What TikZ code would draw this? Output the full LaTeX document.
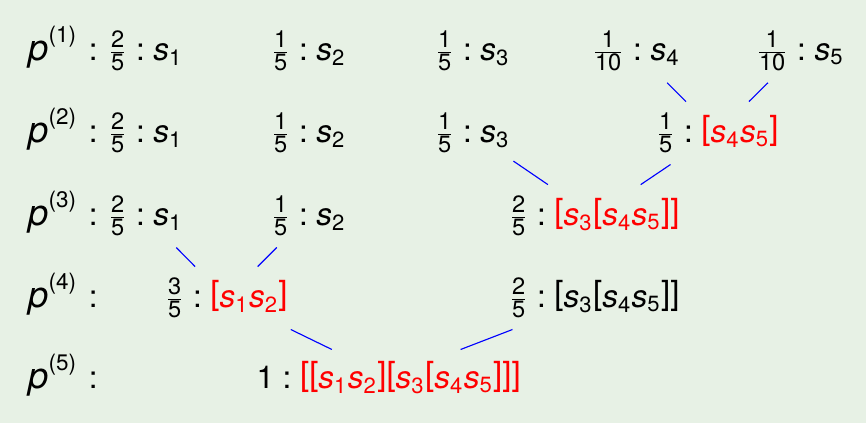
\documentclass[tikz,border=0pt]{standalone}
\usepackage{amsmath}
\usepackage{xcolor}
\usepackage{fontspec}
\setmainfont{TeX Gyre Heros}

\definecolor{bgfill}{RGB}{231,241,229}
\definecolor{mred}{RGB}{255,0,0}
\definecolor{mblue}{RGB}{0,0,255}

\newcommand{\fd}[1]{\text{\fontsize{8.4}{10}\selectfont#1}}
\newcommand{\fr}[2]{\frac{\fd{#1}}{\fd{#2}}}
\newcommand{\sv}[1]{\text{\itshape s}_{\text{#1}}}
\newcommand{\cn}{\mathrel{\text{:}}}
\newcommand{\lb}{\text{\raisebox{1pt}{\fontsize{11.8}{13}\selectfont[}}}
\newcommand{\rb}{\text{\raisebox{1pt}{\fontsize{11.8}{13}\selectfont]}}}
\newcommand{\rd}[1]{\textcolor{mred}{#1}}
\newcommand{\plab}[1]{{\fontsize{12.9}{14}\selectfont\itshape p}%
  \raisebox{6.2pt}{\fontsize{8}{9}\selectfont(#1)}\hspace{4.6pt}:}

\begin{document}
\begin{tikzpicture}[
    x=0.125mm, y=-0.125mm,
    font=\fontsize{11.2}{13}\selectfont,
    lbl/.style={anchor=base west, inner sep=1pt},
    entry/.style={anchor=base west, inner xsep=1.1pt, inner ysep=3.9pt},
    link/.style={draw=mblue, line width=0.4pt}
  ]
    \fill[bgfill] (0,0) rectangle (866,423);

    % row labels
    \node[lbl] (p1) at (25,60)  {\plab{1}};
    \node[lbl] (p2) at (25,142) {\plab{2}};
    \node[lbl] (p3) at (25,225) {\plab{3}};
    \node[lbl] (p4) at (25,307) {\plab{4}};
    \node[lbl] (p5) at (25,388) {\plab{5}};

    % p(1)
    \node[entry] (r1a) at (104,60) {$\fr{2}{5}\cn\sv{1}$};
    \node[entry] (r1b) at (267,60) {$\fr{1}{5}\cn\sv{2}$};
    \node[entry] (r1c) at (431,60) {$\fr{1}{5}\cn\sv{3}$};
    \node[entry] (r1d) at (588,60) {$\fr{1}{10}\cn\sv{4}$};
    \node[entry] (r1e) at (752,60) {$\fr{1}{10}\cn\sv{5}$};

    % p(2)
    \node[entry] (r2a) at (104,142) {$\fr{2}{5}\cn\sv{1}$};
    \node[entry] (r2b) at (267,142) {$\fr{1}{5}\cn\sv{2}$};
    \node[entry] (r2c) at (431,142) {$\fr{1}{5}\cn\sv{3}$};
    \node[entry] (r2d) at (652,142) {$\fr{1}{5}\cn\rd{\lb\sv{4}\sv{5}\rb}$};

    % p(3)
    \node[entry] (r3a) at (104,225) {$\fr{2}{5}\cn\sv{1}$};
    \node[entry] (r3b) at (267,225) {$\fr{1}{5}\cn\sv{2}$};
    \node[entry] (r3c) at (505,225) {$\fr{2}{5}\cn\rd{\lb\sv{3}\lb\sv{4}\sv{5}\rb\rb}$};

    % p(4)
    \node[entry] (r4a) at (161,307) {$\fr{3}{5}\cn\rd{\lb\sv{1}\sv{2}\rb}$};
    \node[entry] (r4b) at (505,307) {$\fr{2}{5}\cn\lb\sv{3}\lb\sv{4}\sv{5}\rb\rb$};

    % p(5)
    \node[entry] (r5a) at (253,388)
      {$\text{1}\cn\rd{\lb\lb\sv{1}\sv{2}\rb\lb\sv{3}\lb\sv{4}\sv{5}\rb\rb\rb}$};

    \draw[link] (r1d) -- (r2d);
    \draw[link] (r1e) -- (r2d);
    \draw[link] (r2c) -- (r3c);
    \draw[link] (r2d) -- (r3c);
    \draw[link] (r3a) -- (r4a);
    \draw[link] (r3b) -- (r4a);
    \draw[link] (r4a) -- (r5a);
    \draw[link] (r4b) -- (r5a);
\end{tikzpicture}
\end{document}
